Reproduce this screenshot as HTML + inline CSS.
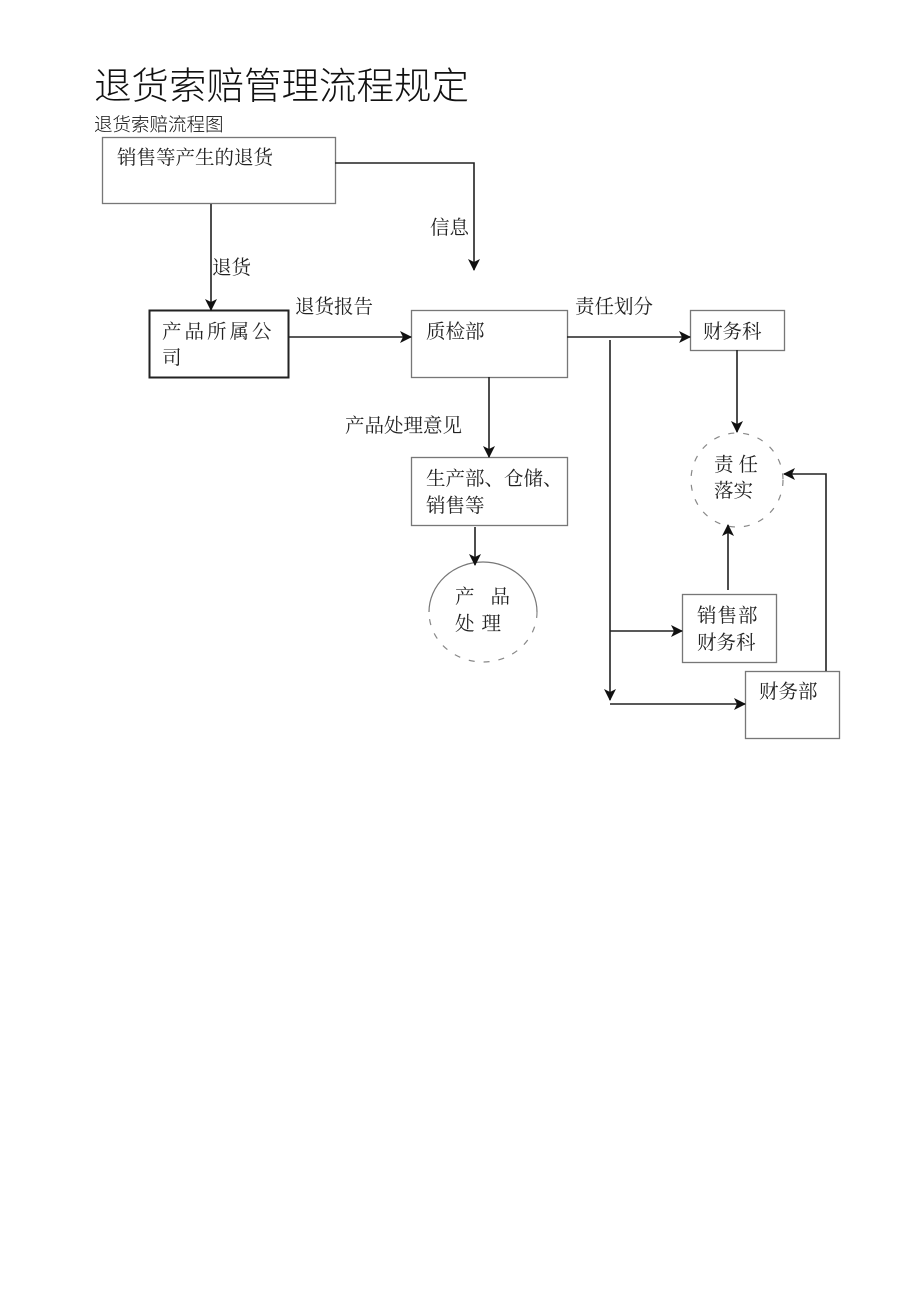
<!DOCTYPE html>
<html><head><meta charset="utf-8"><style>
html,body{margin:0;padding:0;background:#fff;}
body{width:920px;height:1302px;position:relative;overflow:hidden;}
svg{position:absolute;left:0;top:0;}
.t{font-family:"Liberation Sans","Noto Sans CJK SC",sans-serif;fill:#111;font-weight:300;}
.s{font-family:"Liberation Serif","Noto Serif CJK SC",serif;font-size:19.5px;fill:#222;}
</style></head><body>
<svg width="920" height="1302" viewBox="0 0 920 1302">
<defs><marker id="a" markerWidth="12" markerHeight="12" refX="11" refY="6" orient="auto" markerUnits="userSpaceOnUse"><path d="M0,0 L12,6 L0,12 L3,6 Z" fill="#111"/></marker></defs>
<text class="t" x="94" y="99" font-size="37.5">退货索赔管理流程规定</text>
<text class="t" x="94" y="131" font-size="18.5" fill="#333">退货索赔流程图</text>
<g fill="none" stroke="#777" stroke-width="1.3">
<rect x="102.5" y="137.5" width="233" height="66"/>
<rect x="411.5" y="310.5" width="156" height="67"/>
<rect x="690.5" y="310.5" width="94" height="40"/>
<rect x="411.5" y="457.5" width="156" height="68"/>
<rect x="682.5" y="594.5" width="94" height="68"/>
<rect x="745.5" y="671.5" width="94" height="67"/>
</g>
<rect x="149.5" y="310.5" width="139" height="67" fill="none" stroke="#222" stroke-width="2"/>
<path d="M429,612 A54,50 0 0 1 537,612" fill="none" stroke="#777" stroke-width="1.2"/>
<path d="M537,612 A54,50 0 0 1 429,612" fill="none" stroke="#888" stroke-width="1.2" stroke-dasharray="6,9"/>
<ellipse cx="737" cy="480" rx="46" ry="47" fill="none" stroke="#888" stroke-width="1.2" stroke-dasharray="6,9"/>
<g fill="none" stroke="#222" stroke-width="1.6" marker-end="url(#a)">
<path d="M335,163 H474 V270"/>
<path d="M211,204 V310"/>
<path d="M288,337 H411"/>
<path d="M567,337 H690"/>
<path d="M489,377 V457"/>
<path d="M475,527 V565"/>
<path d="M737,350 V432"/>
<path d="M610,340 V700"/>
<path d="M610,631 H682"/>
<path d="M610,704 H745"/>
<path d="M728,590 V525"/>
<path d="M826,671 V474 H784"/>
</g>
<text class="s" x="117" y="164">销售等产生的退货</text>
<text class="s" x="430" y="234">信息</text>
<text class="s" x="212" y="274">退货</text>
<text class="s" x="295" y="313">退货报告</text>
<text class="s" x="575" y="313">责任划分</text>
<text class="s" x="162" y="338" letter-spacing="3">产品所属公</text>
<text class="s" x="162" y="364">司</text>
<text class="s" x="426" y="338">质检部</text>
<text class="s" x="703" y="338">财务科</text>
<text class="s" x="345" y="432">产品处理意见</text>
<text class="s" x="426" y="485">生产部、仓储、</text>
<text class="s" x="426" y="512">销售等</text>
<text class="s" x="714" y="471" letter-spacing="5">责任</text>
<text class="s" x="714" y="497">落实</text>
<text class="s" x="455" y="603" letter-spacing="16">产品</text>
<text class="s" x="455" y="630" letter-spacing="7">处理</text>
<text class="s" x="697" y="622" letter-spacing="1">销售部</text>
<text class="s" x="697" y="649">财务科</text>
<text class="s" x="759" y="698">财务部</text>
</svg>
</body></html>
